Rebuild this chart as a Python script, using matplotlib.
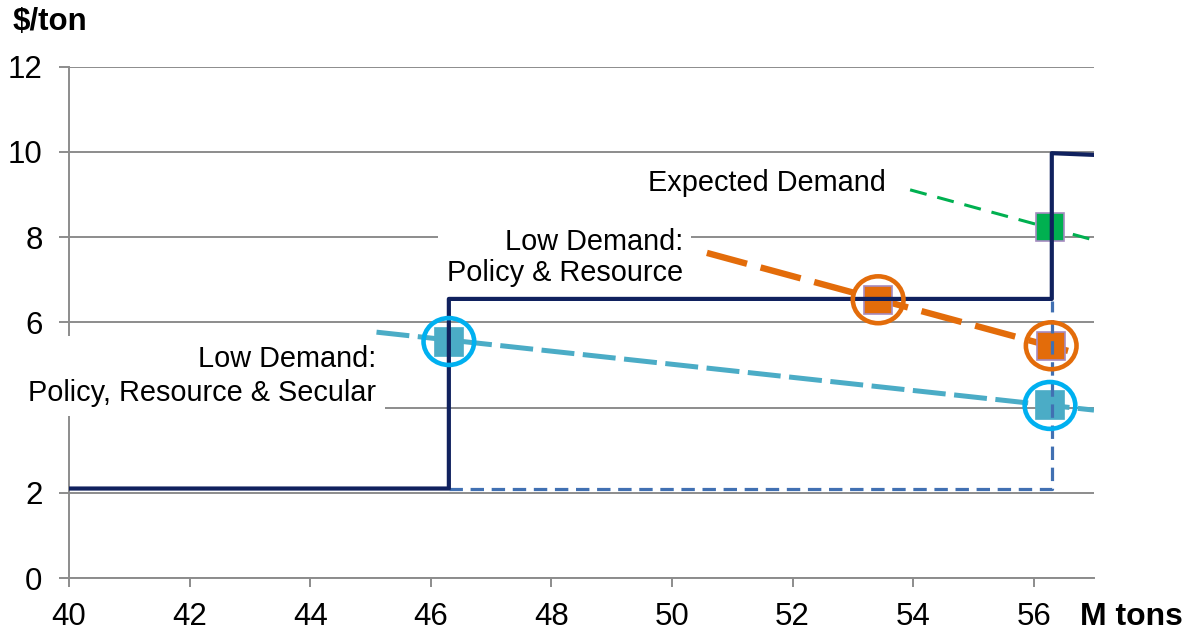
import matplotlib
matplotlib.use("Agg")
import matplotlib.pyplot as plt
from matplotlib.patches import Ellipse

plt.rcParams['font.family'] = ['Liberation Sans', 'DejaVu Sans']

# supply step curve (solid) and its lower continuation (dashed)
supply_x = [40, 46.3, 46.3, 56.3, 56.3, 57]
supply_y = [2.1, 2.1, 6.55, 6.55, 9.97, 9.93]
alt_x = [46.3, 56.3, 56.3]
alt_y = [2.1, 2.1, 6.5]

# demand curves
expected_x = [53.95, 57]
expected_y = [9.11, 7.93]
low_pr_x = [50.58, 56.57]
low_pr_y = [7.63, 5.33]
low_prs_x = [45.1, 57]
low_prs_y = [5.77, 3.94]

# equilibrium points
eq_expected_x = [56.27]
eq_expected_y = [8.24]
eq_pr_x = [53.42, 56.29]
eq_pr_y = [6.53, 5.45]
eq_prs_x = [46.3, 56.27]
eq_prs_y = [5.55, 4.05]

xticks = [40, 42, 44, 46, 48, 50, 52, 54, 56]
yticks = [0, 2, 4, 6, 8, 10, 12]
# the 4 sits under the secular-demand label, so it is left blank
ylabels = ['0', '2', '', '6', '8', '10', '12']

grey = '#8c8c8c'
navy = '#10215e'
steel = '#4170b2'
green = '#00b050'
orange = '#e36c0a'
ltblue = '#4bacc6'
cyan = '#00b0f0'
lilac = '#a58bc0'

fig = plt.figure(figsize=(11.87, 6.33), dpi=100)
ax = fig.add_axes([69/1187, 55/633, 1025/1187, 511.3/633])

ax.set_xlim(40, 57)
ax.set_ylim(0, 12)
ax.set_xticks(xticks)
ax.set_yticks(yticks)
ax.set_yticklabels(ylabels)
ax.yaxis.grid(True, color=grey, lw=1.4, zorder=0)
ax.set_axisbelow(True)
for s in ['top', 'right']:
    ax.spines[s].set_visible(False)
for s in ['left', 'bottom']:
    ax.spines[s].set_color(grey)
    ax.spines[s].set_linewidth(1.4)
ax.tick_params(axis='y', length=7, width=1.4, color=grey, labelsize=22.5, pad=12)
ax.tick_params(axis='x', length=6.5, width=1.4, color=grey, labelsize=22.5, pad=11)

# text boxes (white background hides grid behind)
ax.text(45.09, 4.74, 'Low Demand:\nPolicy, Resource & Secular', ha='right', va='center',
        multialignment='right', fontsize=20.8, linespacing=1.25, zorder=3,
        bbox=dict(boxstyle='square,pad=0.32', fc='white', ec='none'))
ax.text(50.18, 7.52, 'Low Demand:\nPolicy & Resource', ha='right', va='center',
        multialignment='right', fontsize=20.8, linespacing=1.1, zorder=3,
        bbox=dict(boxstyle='square,pad=0.3', fc='white', ec='none'))
ax.text(49.6, 9.27, 'Expected Demand', ha='left', va='center', fontsize=20.8, zorder=3)

# demand lines
ax.plot(expected_x, expected_y, color=green, lw=2.2, dashes=[5.6, 3.6], zorder=4)
ax.plot(low_pr_x, low_pr_y, color=orange, lw=4.6, dashes=[6.5, 2.2], zorder=4)
ax.plot(low_prs_x, low_prs_y, color=ltblue, lw=3.6, dashes=[6.6, 1.7], zorder=4)

# square markers
ax.plot(eq_expected_x, eq_expected_y, ls='none', marker='s', ms=19.5, mfc=green, mec=lilac, mew=1.2, zorder=5)
ax.plot(eq_pr_x, eq_pr_y, ls='none', marker='s', ms=19.5, mfc=orange, mec=lilac, mew=1.2, zorder=5)
ax.plot(eq_prs_x, eq_prs_y, ls='none', marker='s', ms=19.5, mfc=ltblue, mec=ltblue, mew=1.2, zorder=5)

# supply curve
ax.plot(alt_x, alt_y, color=steel, lw=2.3, dashes=[4.2, 2.4], zorder=6)
ax.plot(supply_x, supply_y, color=navy, lw=3, zorder=6)

# circles round the low-demand points
for x, y in zip(eq_pr_x, eq_pr_y):
    ax.add_patch(Ellipse((x, y), 0.84, 1.1, fill=False, ec=orange, lw=3.3, zorder=7))
for x, y in zip(eq_prs_x, eq_prs_y):
    ax.add_patch(Ellipse((x, y), 0.84, 1.1, fill=False, ec=cyan, lw=3.3, zorder=7))

fig.text(13/1187, (633-22)/633, '$/ton', fontsize=22.5, fontweight='bold', ha='left', va='center')
fig.text(1080/1187, (633-617)/633, 'M tons', fontsize=23, fontweight='bold', ha='left', va='center')

fig.savefig('out.png', dpi=100)
